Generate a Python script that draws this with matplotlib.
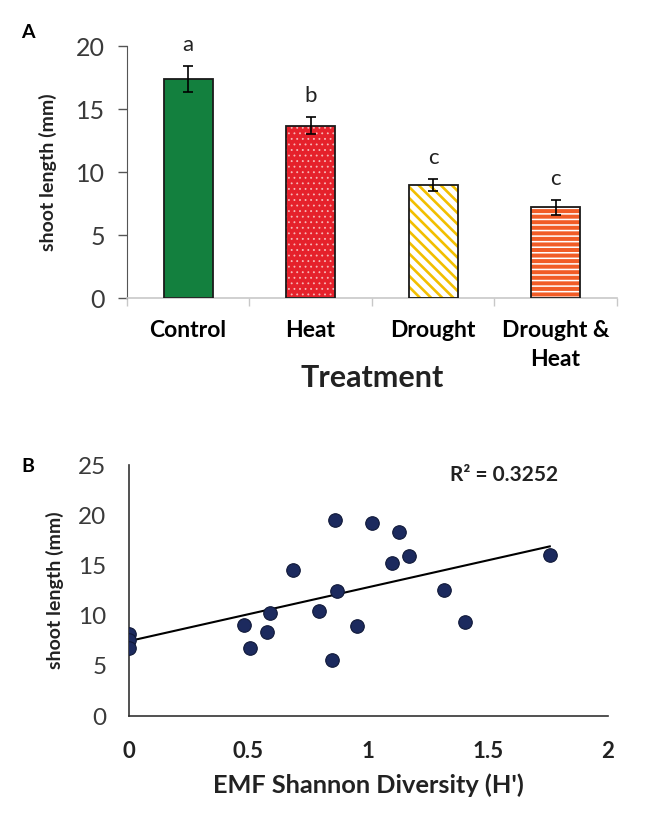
import numpy as np
import matplotlib
matplotlib.use("Agg")
import matplotlib.pyplot as plt

plt.rcParams["font.family"] = ["Lato", "DejaVu Sans"]

# panel A: shoot length per treatment
treatments = ["Control", "Heat", "Drought", "Drought &\nHeat"]
shoot_mean = [17.4, 13.7, 9.0, 7.2]
shoot_err = [1.07, 0.7, 0.5, 0.6]
sig_letters = ["a", "b", "c", "c"]

# panel B: shoot length vs EMF diversity
diversity = [0.0, 0.0, 0.0, 0.48, 0.505, 0.589, 0.579, 0.686, 0.793, 0.863,
             0.868, 0.848, 0.955, 1.015, 1.127, 1.101, 1.17, 1.316, 1.402, 1.758]
shoot_len = [8.2, 7.6, 6.75, 9.1, 6.8, 10.3, 8.4, 14.5, 10.45, 19.5,
             12.5, 5.6, 9.0, 19.25, 18.3, 15.25, 15.9, 12.6, 9.35, 16.0]
r2_label = "R\u00b2 = 0.3252"

GREY_TXT = "#3a3a3a"

fig = plt.figure(figsize=(6.5, 8.17), dpi=100)

# ---- A ----
ax1 = fig.add_axes([0.195, 0.635, 0.754, 0.3084])
x = np.arange(len(treatments))
w = 0.4
faces = ["#13803e", "#e5212b", "white", "#f15c26"]
hatch_cols = [None, "#f6b8b8", "#f2bf00", "white"]
hatches = [None, "...", "\\\\\\", "---"]
hatch_lw = [1.0, 0.6, 1.9, 1.1]

for i in range(len(treatments)):
    ax1.bar(x[i], shoot_mean[i], w, color=faces[i], edgecolor="none", zorder=2)
    if hatches[i]:
        # hatch drawn as separate layer so its colour can differ from the outline
        with plt.rc_context({"hatch.linewidth": hatch_lw[i]}):
            hb = ax1.bar(x[i], shoot_mean[i], w, facecolor="none",
                         edgecolor=hatch_cols[i], hatch=hatches[i], linewidth=0, zorder=3)
        for p in hb:
            if hasattr(p, "set_hatch_linewidth"):
                p.set_hatch_linewidth(hatch_lw[i])
    ax1.bar(x[i], shoot_mean[i], w, facecolor="none", edgecolor="#1a1a1a", linewidth=1.3, zorder=4)

ax1.errorbar(x, shoot_mean, yerr=shoot_err, fmt="none", ecolor="black",
             elinewidth=1.2, capsize=3.5, capthick=1.2, zorder=5)
for xi, m, e, lt in zip(x, shoot_mean, shoot_err, sig_letters):
    ax1.annotate(lt, (xi, m + e), xytext=(0, 15), textcoords="offset points",
                 ha="center", va="center", fontsize=16, color="#222222")

ax1.set_xlim(-0.5, len(treatments) - 0.5)
ax1.set_ylim(0, 20)
ax1.set_yticks([0, 5, 10, 15, 20])
ax1.set_xticks(x, treatments, fontweight="bold", fontsize=16.5)
ax1.set_xticks(np.arange(len(treatments) + 1) - 0.5, minor=True)
for lab in ax1.get_xticklabels():
    lab.set_multialignment("center")
    lab.set_linespacing(1.45)
ax1.tick_params(axis="x", which="major", length=0, pad=16)
ax1.tick_params(axis="x", which="minor", length=6, color="#c8c8c8", width=1)
ax1.tick_params(axis="y", length=6.5, color="#555555", width=1, pad=9,
                labelsize=18, labelcolor=GREY_TXT)
for s in ["top", "right"]:
    ax1.spines[s].set_visible(False)
ax1.spines["left"].set_color("#555555")
ax1.spines["bottom"].set_color("#c8c8c8")
ax1.spines["bottom"].set_linewidth(1.2)

ax1.set_ylabel("shoot length (mm)", fontsize=14, fontweight="bold", color="#222222")
ax1.yaxis.set_label_coords(-0.143, 0.5)
ax1.set_xlabel("Treatment", fontsize=22, fontweight="bold", color="#222222")
ax1.xaxis.set_label_coords(0.5, -0.317)
ax1.xaxis.label.set_va("center")

# ---- B ----
ax2 = fig.add_axes([0.198, 0.1236, 0.737, 0.3072])
ax2.scatter(diversity, shoot_len, s=95, color="#1c2a5e", edgecolor="#0f1838",
            linewidth=0.8, zorder=3)
slope, intercept = np.polyfit(diversity, shoot_len, 1)
xl = np.array([0, max(diversity)])
ax2.plot(xl, slope * xl + intercept, color="black", linewidth=1.5, zorder=2)
ax2.text(1.34, 24.0, r2_label, fontsize=15, fontweight="bold", color="#222222",
         ha="left", va="center")

ax2.set_xlim(0, 2)
ax2.set_ylim(0, 25)
ax2.set_xticks([0, 0.5, 1, 1.5, 2], ["0", "0.5", "1", "1.5", "2"], fontweight="bold")
ax2.set_yticks([0, 5, 10, 15, 20, 25])
ax2.tick_params(axis="x", length=0, pad=18, labelsize=16, labelcolor="#222222")
ax2.tick_params(axis="y", length=0, pad=16, labelsize=17.5, labelcolor=GREY_TXT)
for s in ["top", "right"]:
    ax2.spines[s].set_visible(False)
for s in ["left", "bottom"]:
    ax2.spines[s].set_color("#333333")
    ax2.spines[s].set_linewidth(1.2)

ax2.set_ylabel("shoot length (mm)", fontsize=14, fontweight="bold", color="#222222")
ax2.yaxis.set_label_coords(-0.136, 0.5)
ax2.set_xlabel("EMF Shannon Diversity (H')", fontsize=18.3, fontweight="bold", color="#222222")
ax2.xaxis.set_label_coords(0.5, -0.275)
ax2.xaxis.label.set_va("center")

fig.text(28 / 650, 1 - 33 / 817, "A", fontsize=14, fontweight="bold", ha="center", va="center")
fig.text(28 / 650, 1 - 467 / 817, "B", fontsize=14, fontweight="bold", ha="center", va="center")

fig.savefig("out.png", dpi=100, facecolor="white")
